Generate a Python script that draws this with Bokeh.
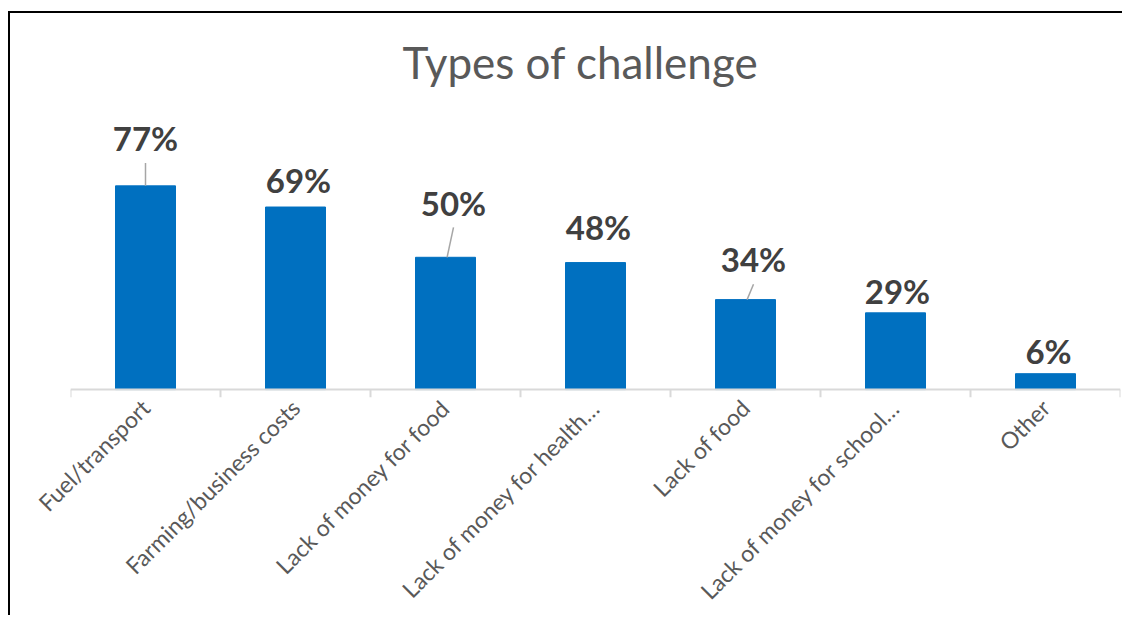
import math
from bokeh.plotting import figure
from bokeh.models import (FactorRange, Range1d, CategoricalAxis, Label,
                          ColumnDataSource, Span)
from bokeh.embed import file_html
from bokeh.resources import INLINE
from bokeh.core.properties import value

# ---- data -------------------------------------------------------------
categories = ["Fuel/transport", "Farming/business costs", "Lack of money for food",
              "Lack of money for health…", "Lack of food",
              "Lack of money for school…", "Other"]
percent = [77, 69, 50, 48, 34, 29, 6]
label_texts = [f"{v}%" for v in percent]
title_text = "Types of challenge"

# ---- hand-placed data-label layout (as in the original) ---------------
label_dx = [0, 3, 8, 3, 8, 2, 3]                       # px to the right
label_dy = [18.0, 10.3, 20.7, 13.3, 15.2, 8.2, 8.7]    # units above bar top
has_leader = [True, False, True, False, True, False, False]
px_per_slot = 150.0
leader_gap = 9.4
tick_len = 3.0   # in value units below the axis line

FONT = "Lato"
BLUE = "#0070C0"
AXIS_GREY = "#d9d9d9"

label_y = [v + d for v, d in zip(percent, label_dy)]
src = ColumnDataSource(dict(cat=categories, val=percent, label=label_texts,
                            ly=label_y, dx=label_dx))

lx0, ly0, lx1, ly1 = [], [], [], []
for i, (v, d, dx, h) in enumerate(zip(percent, label_dy, label_dx, has_leader)):
    if h:
        lx0.append(i + 0.5 + dx / px_per_slot)
        ly0.append(v + d - leader_gap)
        lx1.append(i + 0.5 + (dx / px_per_slot) * 0.2)
        ly1.append(v)
leader_src = ColumnDataSource(dict(x0=lx0, y0=ly0, x1=lx1, y1=ly1))

bounds = list(range(len(categories) + 1))
tick_src = ColumnDataSource(dict(x=bounds, y0=[0] * len(bounds),
                                 y1=[-tick_len] * len(bounds)))

p = figure(x_range=FactorRange(*categories), y_range=Range1d(-tick_len, 139.5),
           width=1114, height=604, output_backend="svg", toolbar_location=None,
           x_axis_location=None, y_axis_location=None,
           min_border_left=60, min_border_right=4, min_border_top=7,
           min_border_bottom=218)
p.grid.visible = False
p.outline_line_color = None
p.background_fill_color = "white"
p.border_fill_color = "white"
p.styles = {"border-left": "2px solid #000000", "border-top": "2px solid #000000",
            "margin-top": "11px", "margin-left": "8px"}

p.vbar(x="cat", top="val", width=0.4, color=BLUE, source=src)

# axis line with ticks between the categories
p.add_layout(Span(location=0, dimension="width", line_color=AXIS_GREY, line_width=2))
p.segment(x0="x", y0="y0", x1="x", y1="y1", source=tick_src,
          line_color=AXIS_GREY, line_width=2)

p.segment(x0="x0", y0="y0", x1="x1", y1="y1", source=leader_src,
          line_color="#a6a6a6", line_width=1.5)
p.text(x="cat", y="ly", text="label", x_offset="dx", source=src,
       text_align="center", text_baseline="middle",
       text_font=value(FONT), text_font_style="bold",
       text_font_size="33px", text_color="#404040")

p.add_layout(Label(x=3.4, y=123.7, text=title_text, text_align="center",
                   text_baseline="middle", text_font=FONT,
                   text_font_size="44px", text_color="#595959"))

cat_axis = CategoricalAxis(axis_line_color=None, major_tick_line_color=None,
                           minor_tick_line_color=None,
                           major_label_orientation=math.pi / 4,
                           major_label_text_font=FONT,
                           major_label_text_font_size="23px",
                           major_label_text_color="#595959",
                           major_label_standoff=0)
p.add_layout(cat_axis, "below")

open("out.html", "w").write(file_html(p, INLINE))
